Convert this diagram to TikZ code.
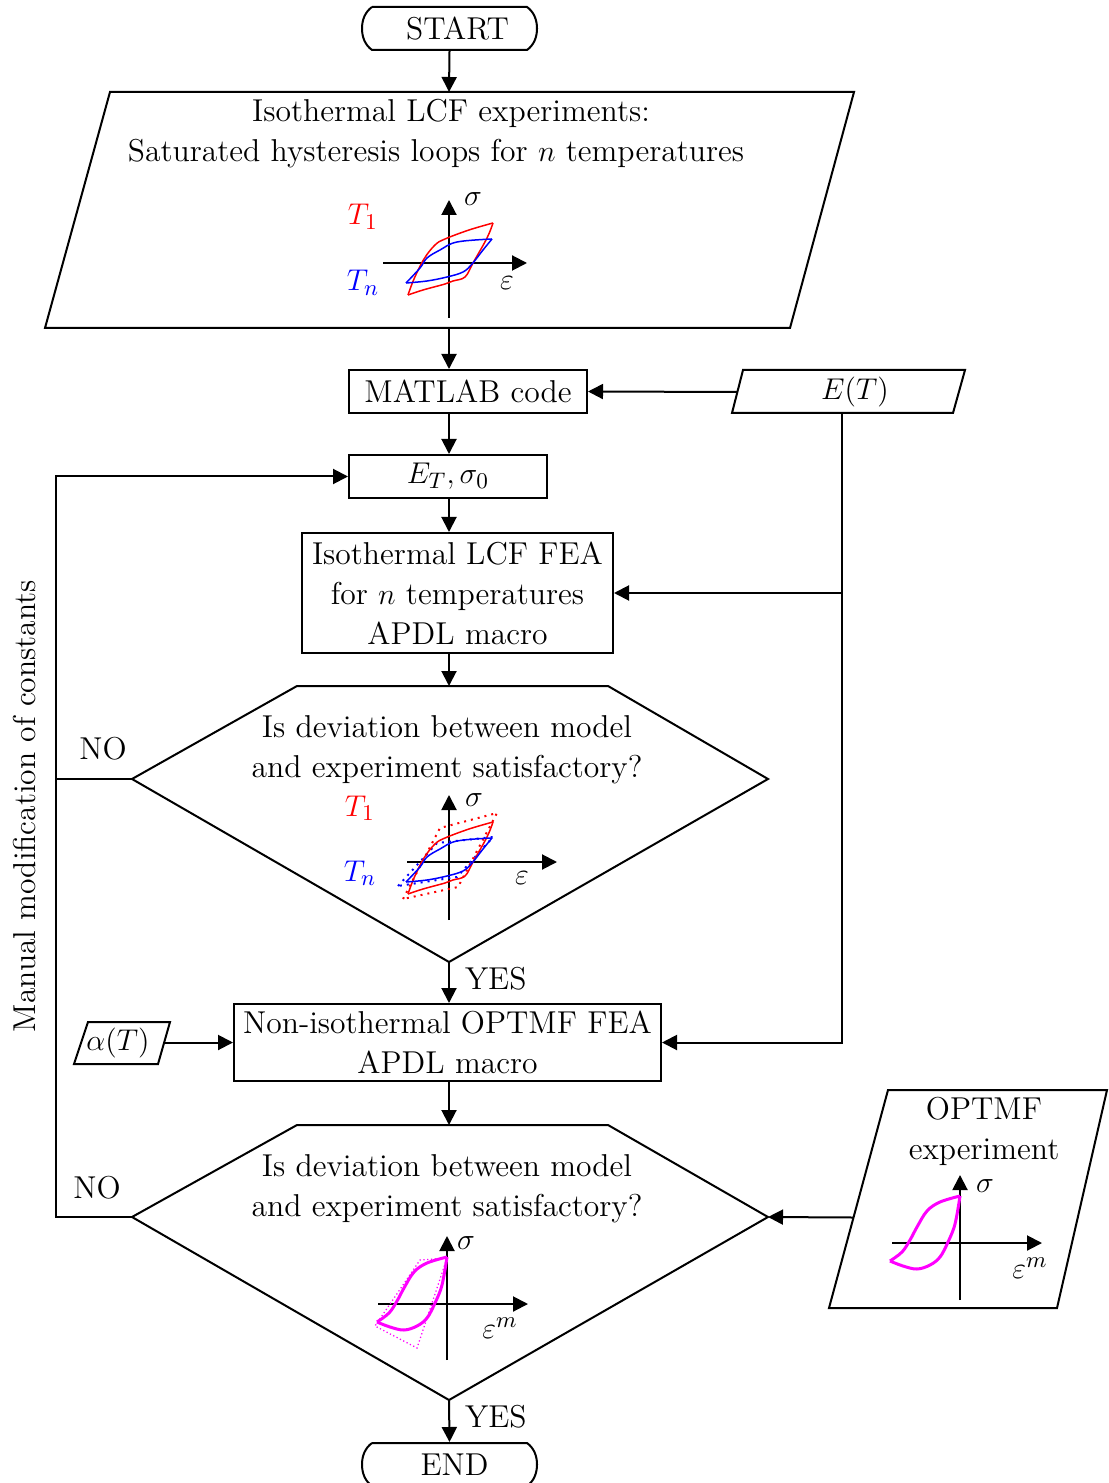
\documentclass[tikz,border=0pt]{standalone}
\usetikzlibrary{arrows.meta}
\definecolor{mag}{RGB}{255,0,255}
\newcommand\redloop{%
  \draw[red,line width=0.6pt] plot[smooth,tension=0.6] coordinates {(-41,32) (-35,16) (-25,-4) (-14,-18) (-4,-24) (20,-33) (44,-40)};
  \draw[red,line width=0.6pt] plot[smooth,tension=0.6] coordinates {(44,-40) (38,-25) (24,0) (16,14) (4,18) (-4,21) (-26,27) (-41,32)};}
\newcommand\blueloop{%
  \draw[blue,line width=0.6pt] plot[smooth,tension=0.6] coordinates {(-43,20) (-29,5) (-22,-5) (-9,-13) (8,-21) (43,-24)};
  \draw[blue,line width=0.6pt] plot[smooth,tension=0.6] coordinates {(43,-24) (34,-13) (23,1) (14,9) (-2,14) (-22,18) (-43,20)};}
\newcommand\magloop{%
  \draw[mag,line width=1.2pt] plot[smooth,tension=0.6] coordinates {(-70,18) (-58,9) (-50,-3) (-43,-16) (-33,-32) (-20,-41) (0,-47)};
  \draw[mag,line width=1.2pt] plot[smooth,tension=0.6] coordinates {(0,-47) (-5,-19) (-12,-1) (-20,14) (-30,22) (-43,26) (-57,23) (-70,18)};}
\begin{document}
\begin{tikzpicture}[x=0.4pt,y=-0.4pt,line width=0.8pt,
  every node/.style={font=\fontsize{12.65}{16}\selectfont,inner sep=0pt},
  arr/.style={-{Triangle[length=6pt,width=6pt]}},
  box/.style={draw,rectangle,align=center},
  term/.style={minimum width=62pt,minimum height=17.2pt}]
\useasboundingbox (0,0) rectangle (1108,1483);
\coordinate (col) at (449,0);
% START
\node[term] (start) at (449.5,28.5) {\hspace*{6.4pt}START};
\draw (372,7) -- (527,7) .. controls (534,12) and (537,20) .. (537,28.5) .. controls (537,37) and (534,45) .. (527,50) -- (372,50) .. controls (365,45) and (362,37) .. (362,28.5) .. controls (362,20) and (365,12) .. (372,7);
% experiments
\draw (110,92) -- (854,92) -- (790,328) -- (45,328) -- cycle;
\coordinate (expT) at (449,92);
\coordinate (expB) at (449,328);
\node[align=center] (exp) at (436,134) {\hspace*{12pt}Isothermal LCF experiments:\\Saturated hysteresis loops for $n$ temperatures};
\begin{scope}[shift={(449,263)}]
  \draw[arr] (0,55) -- (0,-63);
  \draw[arr] (-66,0) -- (78,0);
  \redloop \blueloop
\end{scope}
\node (s1) at (473,199) {$\sigma$};
\node (e1) at (507,283) {$\varepsilon$};
\node[red] (t11) at (363,217) {$T_1$};
\node[blue] (tn1) at (363,283) {$T_n$};
% MATLAB
\node[box,minimum width=95.2pt,minimum height=17.2pt] (matlab) at (468,391.5) {MATLAB code};
% E(T)
\draw (743,370) -- (965,370) -- (953,413) -- (732,413) -- cycle;
\node (ET) at (855,392) {$E(T)$};
\coordinate (etL) at (737.5,392);
\coordinate (etB) at (842,413);
% E_T sigma_0
\node[box,minimum width=79.2pt,minimum height=17.2pt] (et0) at (448,476.5) {$E_T,\sigma_0$};
% FEA
\node[box,minimum width=124.4pt,minimum height=48pt] (fea) at (457.5,593) {Isothermal LCF FEA\\for $n$ temperatures\\APDL macro};
% decision 1
\draw (297,686) -- (608,686) -- (768,779) -- (449,962) -- (132,779) -- cycle;
\coordinate (d1T) at (449,686);
\coordinate (d1L) at (132,779);
\coordinate (d1B) at (449,962);
\node[align=center] (d1) at (447,750) {Is deviation between model\\and experiment satisfactory?};
\begin{scope}[shift={(449,862)}]
  \draw[arr] (0,58) -- (0,-67);
  \draw[arr] (-42,0) -- (108,0);
  \draw[red,dotted,line width=0.8pt] (-46,37) -- (-9,-34) -- (48,-49) -- (9,25) -- cycle;
  \draw[blue,dotted,line width=0.8pt] (-51,24) -- (-12,-19) -- (44,-25) -- (8,15) -- cycle;
  \redloop \blueloop
\end{scope}
\node (s2) at (474,800) {$\sigma$};
\node (e2) at (522,878) {$\varepsilon$};
\node[red] (t12) at (360,808) {$T_1$};
\node[blue] (tn2) at (360,873) {$T_n$};
% non-isothermal
\node[box,minimum width=170.8pt,minimum height=30.8pt] (noniso) at (447.5,1042.5) {Non-isothermal OPTMF FEA\\APDL macro};
% alpha
\draw (88,1022) -- (170,1022) -- (158,1064) -- (74,1064) -- cycle;
\node (alpha) at (118,1043) {$\alpha(T)$};
\coordinate (alR) at (164,1042.5);
% decision 2
\draw (297,1125) -- (608,1125) -- (768,1217) -- (449,1400) -- (132,1217) -- cycle;
\coordinate (d2T) at (449,1125);
\coordinate (d2L) at (132,1217);
\coordinate (d2R) at (768,1217);
\coordinate (d2B) at (449,1400);
\node[align=center] (d2) at (447,1189) {Is deviation between model\\and experiment satisfactory?};
\begin{scope}[shift={(447,1304)}]
  \draw[arr] (0,56) -- (0,-68);
  \draw[arr] (-69,0) -- (81,0);
  \draw[mag,densely dotted,line width=0.5pt] (0,-46) -- (-27,-44) -- (-72,22) -- (-30,44) -- cycle;
  \magloop
\end{scope}
\node (s3) at (466,1243) {$\sigma$};
\node (e3) at (500,1328) {$\varepsilon^m$};
% OPTMF experiment
\draw (888,1090) -- (1107,1090) -- (1057,1308) -- (829,1308) -- cycle;
\node[align=center] (optmf) at (984,1131) {OPTMF\\experiment};
\coordinate (opL) at (853,1217.5);
\begin{scope}[shift={(960,1243)}]
  \draw[arr] (0,57) -- (0,-68);
  \draw[arr] (-68,0) -- (82,0);
  \magloop
\end{scope}
\node (s4) at (985,1186) {$\sigma$};
\node (e4) at (1030,1268) {$\varepsilon^m$};
% END
\node[term] (end) at (449.5,1464.5) {\hspace*{4pt}END};
\draw (372,1443) -- (527,1443) .. controls (534,1448) and (537,1456) .. (537,1464.5) .. controls (537,1473) and (534,1481) .. (527,1486) -- (372,1486) .. controls (365,1481) and (362,1473) .. (362,1464.5) .. controls (362,1456) and (365,1448) .. (372,1443);
% connectors
\draw[arr] (start.south) -- (expT);
\draw[arr] (expB) -- (expB |- matlab.north);
\draw[arr] (etL) -- (matlab.east);
\draw[arr] (col |- matlab.south) -- (col |- et0.north);
\draw[arr] (col |- et0.south) -- (col |- fea.north);
\draw[arr] (col |- fea.south) -- (d1T);
\draw[arr] (d1B) -- (col |- noniso.north) node[pos=0.4,right=6pt] (yes1) {YES};
\draw[arr] (col |- noniso.south) -- (d2T);
\draw[arr] (d2B) -- (end.north) node[pos=0.4,right=6pt] (yes2) {YES};
\draw[arr] (alR) -- (noniso.west);
\draw[arr] (opL) -- (d2R);
\draw[arr] (etB) -- (etB |- noniso.east) -- (noniso.east);
\draw[arr] (etB |- fea.east) -- (fea.east);
\coordinate (fbB) at (56,1217);
\draw[arr] (d2L) -- (fbB) -- (fbB |- et0.west) -- (et0.west);
\draw (d1L) -- (d1L -| fbB);
\node (no1) at (103,749) {NO};
\node (no2) at (97,1188) {NO};
\node[rotate=90] (manual) at (25,806) {Manual modification of constants};
\end{tikzpicture}
\end{document}
